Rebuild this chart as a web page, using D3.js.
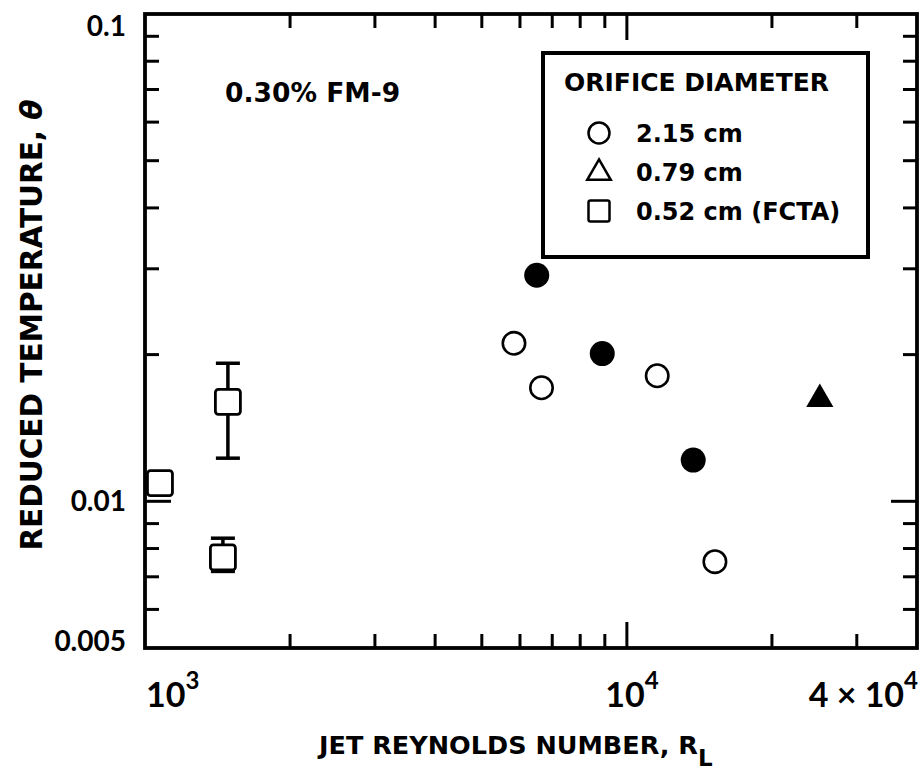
<!DOCTYPE html>
<html>
<head>
<meta charset="utf-8">
<script src="https://cdn.jsdelivr.net/npm/d3@7"></script>
<style>
  html, body { margin: 0; padding: 0; background: #fff; }
  svg { display: block; }
  text { font-family: "Lato", "DejaVu Sans", sans-serif; font-weight: 700; fill: #000; }
  text.wide { font-family: "DejaVu Sans", sans-serif; font-weight: 700; }
</style>
</head>
<body>
<svg id="chart" width="924" height="771"></svg>
<script>
// ---------------- data ----------------
// 2.15 cm orifice, open circles
const openCircleRe    = [5830, 6650, 11560, 15230];
const openCircleTheta = [0.0211, 0.0171, 0.0181, 0.00752];
// 2.15 cm orifice, filled circles
const filledCircleRe    = [6500, 8890, 13730];
const filledCircleTheta = [0.0291, 0.0201, 0.01215];
// 0.79 cm orifice, filled triangle
const triangleRe    = [25140];
const triangleTheta = [0.0162];
// 0.52 cm (FCTA), squares with error bars
const squareRe      = [1074, 1486, 1451];
const squareTheta   = [0.0109, 0.0160, 0.00767];
const squareErrLow  = [null, 0.01226, 0.00718];
const squareErrHigh = [null, 0.0192, 0.0084];

// axes
const xDomain = [1e3, 4e4];
const yDomain = [0.005, 0.1];
const xMajorTicks = [1e3, 1e4, 4e4];
const xMajorBase  = ["10", "10", "4 \u00d7 10"];
const xMajorExp   = ["3", "4", "4"];
const xMinorTicks = [2e3, 3e3, 4e3, 5e3, 6e3, 7e3, 8e3, 9e3, 2e4, 3e4];
const yLabelTicks = [0.1, 0.01, 0.005];
const yLabels     = ["0.1", "0.01", "0.005"];
const yMajorTicks = [0.01];
const yMinorTicks = [0.006, 0.007, 0.008, 0.009, 0.02, 0.03, 0.04, 0.05, 0.06, 0.07, 0.08, 0.09];

const legendTitle  = "ORIFICE DIAMETER";
const legendLabels = ["2.15 cm", "0.79 cm", "0.52 cm (FCTA)"];
const legendShapes = ["circle", "triangle", "square"];

const annotation = "0.30% FM-9";
const xTitle = "JET REYNOLDS NUMBER, R";
const xTitleSub = "L";
const yTitle = "REDUCED TEMPERATURE, ";
const yTitleSym = "\u03b8";

// ---------------- layout ----------------
const plot = { left: 145, right: 917, top: 14, bottom: 648 };
const svg = d3.select("#chart");

const x = d3.scaleLog().domain(xDomain).range([plot.left, plot.right]);
const y = d3.scaleLog().domain(yDomain).range([plot.bottom, plot.top]);

const minorLen = 14, majorLen = 26;

// frame
svg.append("rect")
  .attr("x", plot.left).attr("y", plot.top)
  .attr("width", plot.right - plot.left).attr("height", plot.bottom - plot.top)
  .attr("fill", "none").attr("stroke", "#000").attr("stroke-width", 3.8);

const tickG = svg.append("g").attr("stroke", "#000").attr("stroke-width", 3);

function xTicks(vals, len) {
  vals.forEach(v => {
    tickG.append("line").attr("x1", x(v)).attr("x2", x(v))
      .attr("y1", plot.bottom).attr("y2", plot.bottom - len);
    tickG.append("line").attr("x1", x(v)).attr("x2", x(v))
      .attr("y1", plot.top).attr("y2", plot.top + len);
  });
}
function yTicks(vals, len) {
  vals.forEach(v => {
    tickG.append("line").attr("y1", y(v)).attr("y2", y(v))
      .attr("x1", plot.left).attr("x2", plot.left + len);
    tickG.append("line").attr("y1", y(v)).attr("y2", y(v))
      .attr("x1", plot.right).attr("x2", plot.right - len);
  });
}
xTicks(xMinorTicks, minorLen);
xTicks(xMajorTicks.filter(v => v > xDomain[0] && v < xDomain[1]), majorLen);
yTicks(yMinorTicks, minorLen);
yTicks(yMajorTicks, majorLen);

// x tick labels
xMajorTicks.forEach((v, i) => {
  const anchor = i === 0 ? "start" : (i === xMajorTicks.length - 1 ? "end" : "middle");
  const t = svg.append("text")
    .attr("x", x(v) + (anchor === "middle" ? 5 : 1))
    .attr("y", 707)
    .attr("text-anchor", anchor)
    .attr("font-size", 34);
  t.append("tspan").text(xMajorBase[i]);
  t.append("tspan").attr("dy", -18).attr("font-size", 24).text(xMajorExp[i]);
});

// y tick labels (kept inside the frame's vertical extent)
yLabelTicks.forEach((v, i) => {
  const cy = Math.max(plot.top + 12, Math.min(plot.bottom - 7, y(v)));
  svg.append("text")
    .attr("x", plot.left - 19)
    .attr("y", cy)
    .attr("dy", "0.36em")
    .attr("text-anchor", "end")
    .attr("font-size", 28)
    .text(yLabels[i]);
});

// axis titles
const xt = svg.append("text")
  .attr("class", "wide")
  .attr("x", 319)
  .attr("y", 754)
  .attr("font-size", 25.5);
xt.append("tspan").text(xTitle);
xt.append("tspan").attr("dy", 12).attr("font-size", 23).text(xTitleSub);

const yt = svg.append("text")
  .attr("class", "wide")
  .attr("transform", `translate(42, 325) rotate(-90)`)
  .attr("text-anchor", "middle")
  .attr("font-size", 29.5);
yt.append("tspan").text(yTitle);
yt.append("tspan").attr("font-style", "italic").text(yTitleSym);

// annotation
svg.append("text").attr("class", "wide").attr("x", 225).attr("y", 102).attr("font-size", 26.5).text(annotation);

// ---------------- marks ----------------
const r = 12.5;
const sq = 25;
const markG = svg.append("g");

// error bars
const capW = 24;
squareRe.forEach((re, i) => {
  if (squareErrLow[i] == null) return;
  const cx = x(re);
  const g = markG.append("g").attr("stroke", "#000").attr("stroke-width", 3.5);
  g.append("line").attr("x1", cx).attr("x2", cx).attr("y1", y(squareErrHigh[i])).attr("y2", y(squareErrLow[i]));
  [squareErrHigh[i], squareErrLow[i]].forEach(v =>
    g.append("line").attr("x1", cx - capW / 2).attr("x2", cx + capW / 2).attr("y1", y(v)).attr("y2", y(v)));
});

// squares
markG.selectAll("rect.sq").data(squareRe).join("rect")
  .attr("class", "sq")
  .attr("x", d => x(d) - sq / 2)
  .attr("y", (d, i) => y(squareTheta[i]) - sq / 2)
  .attr("width", sq).attr("height", sq).attr("rx", 3)
  .attr("fill", "#fff").attr("stroke", "#000").attr("stroke-width", 2.8);

// open circles
markG.selectAll("circle.open").data(openCircleRe).join("circle")
  .attr("class", "open")
  .attr("cx", d => x(d)).attr("cy", (d, i) => y(openCircleTheta[i]))
  .attr("r", r - 1.3)
  .attr("fill", "#fff").attr("stroke", "#000").attr("stroke-width", 2.6);

// filled circles
markG.selectAll("circle.filled").data(filledCircleRe).join("circle")
  .attr("class", "filled")
  .attr("cx", d => x(d)).attr("cy", (d, i) => y(filledCircleTheta[i]))
  .attr("r", r)
  .attr("fill", "#000");

// filled triangle
markG.selectAll("path.tri").data(triangleRe).join("path")
  .attr("class", "tri")
  .attr("transform", (d, i) => `translate(${x(d)}, ${y(triangleTheta[i])})`)
  .attr("d", d3.symbol().type(d3.symbolTriangle).size(320)())
  .attr("fill", "#000");

// ---------------- legend ----------------
const lg = { x: 543, y: 53, w: 325, h: 204 };
svg.append("rect").attr("x", lg.x).attr("y", lg.y).attr("width", lg.w).attr("height", lg.h)
  .attr("fill", "#fff").attr("stroke", "#000").attr("stroke-width", 4);
svg.append("text").attr("class", "wide").attr("x", lg.x + 21).attr("y", lg.y + 38).attr("font-size", 25).text(legendTitle);

const rowY = d3.scalePoint().domain(legendLabels).range([lg.y + 80, lg.y + 158]);
legendLabels.forEach((lab, i) => {
  const cy = rowY(lab), cx = lg.x + 56;
  const s = legendShapes[i];
  if (s === "circle") {
    svg.append("circle").attr("cx", cx).attr("cy", cy).attr("r", 10.5)
      .attr("fill", "none").attr("stroke", "#000").attr("stroke-width", 2.5);
  } else if (s === "triangle") {
    svg.append("path").attr("transform", `translate(${cx}, ${cy + 1})`)
      .attr("d", d3.symbol().type(d3.symbolTriangle).size(240)())
      .attr("fill", "none").attr("stroke", "#000").attr("stroke-width", 2.5);
  } else {
    svg.append("rect").attr("x", cx - 10.5).attr("y", cy - 10.5).attr("width", 21).attr("height", 21).attr("rx", 2)
      .attr("fill", "none").attr("stroke", "#000").attr("stroke-width", 2.5);
  }
  svg.append("text").attr("class", "wide").attr("x", lg.x + 93).attr("y", cy + 9).attr("font-size", 24).text(lab);
});
</script>
</body>
</html>
